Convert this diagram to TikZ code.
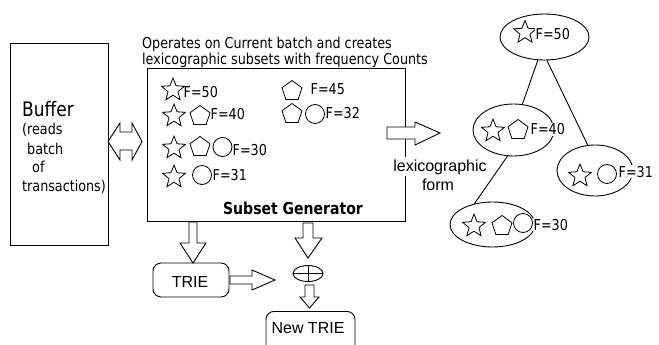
\documentclass[tikz,border=0pt]{standalone}
\usepackage{fontspec}
\usetikzlibrary{shapes.geometric}
\newfontfamily\tah[FakeStretch=0.85]{DejaVu Sans}
\newfontfamily\ari{Liberation Sans}
\begin{document}
\begin{tikzpicture}[x=1pt,y=-1pt,
  ln/.style={line width=0.9pt},
  sym/.style={draw, line width=0.8pt, inner sep=0pt},
  starsym/.style={sym, star, star points=5, star point ratio=2.3, minimum size=24pt},
  pentsym/.style={sym, regular polygon, regular polygon sides=5, minimum size=21pt},
  circsym/.style={sym, circle, minimum size=19pt},
  flab/.style={font=\tah\fontsize{15}{18}\selectfont, inner sep=0.5pt, anchor=base west},
  tlab/.style={flab, fill=white},
  htext/.style={font=\tah\fontsize{15}{18}\selectfont, inner sep=0pt, anchor=base west},
  atext/.style={font=\ari\fontsize{16}{19}\selectfont, inner sep=1pt, anchor=base},
  blockarrow/.style={ln, fill=white, line join=miter},
  tnode/.style={draw, ln, ellipse, inner sep=0pt}
]
\clip (0,0) rectangle (659,345);
\fill[white] (0,0) rectangle (659,345);

% Buffer
\node[draw, ln, anchor=north west, minimum width=98pt, minimum height=202pt, inner sep=0pt] (buf) at (10,43) {};
\node[htext, font=\tah\fontsize{20}{24}\selectfont] (bufT) at (22,117) {Buffer};
\node[htext] (bufL1) at (22,134) {(reads};
\node[htext] (bufL2) at (27,154) {batch};
\node[htext] (bufL3) at (32,172) {of};
\node[htext] (bufL4) at (22,191) {transactions)};

% double arrow
\draw[blockarrow] (108,141.5)--(120,123)--(120,132)--(132,132)--(132,123)--(142,141.5)
  --(132,160)--(132,150)--(120,150)--(120,160)--cycle;

% header
\node[htext] (h1) at (142,49) {Operates on Current batch and creates};
\node[htext] (h2) at (142,65) {lexicographic subsets with frequency Counts};

% Subset generator
\node[draw, ln, anchor=north west, minimum width=258pt, minimum height=153pt, inner sep=0pt] (sub) at (147,68) {};
\node[font=\tah\bfseries\fontsize{16.5}{20}\selectfont, inner sep=0pt, anchor=base] (subT) at (293,214) {Subset Generator};

% row 1
\node[starsym] (s1a) at (173,90) {};
\node[flab] (f50) at (183,98) {F=50};
\node[pentsym] (p1b) at (292,91) {};
\node[flab] (f45) at (310,95) {F=45};
% row 2
\node[starsym] (s2a) at (174,116) {};
\node[pentsym] (p2a) at (200,116) {};
\node[flab] (f40) at (210,120) {F=40};
\node[pentsym] (p2b) at (292,114) {};
\node[circsym] (c2b) at (315,114) {};
\node[flab] (f32) at (325,118) {F=32};
% row 3
\node[starsym] (s3a) at (174,148) {};
\node[pentsym] (p3a) at (200,147) {};
\node[circsym] (c3a) at (222.5,147) {};
\node[flab] (f30) at (232,155) {F=30};
% row 4
\node[starsym] (s4a) at (174,177) {};
\node[circsym] (c4a) at (202,175) {};
\node[flab] (f31) at (212,180) {F=31};

% lexicographic arrow
\draw[blockarrow] (387,127)--(415,127)--(415,122)--(440,133)--(415,145)--(415,139)--(387,139)--cycle;
\node[atext, fill=white, inner sep=2pt] (lex1) at (440,171) {lexicographic};
\node[atext, fill=white, inner sep=2pt] (lex2) at (438,190) {form};

% tree
\node[tnode, minimum width=89pt, minimum height=46pt] (r) at (544.5,37) {};
\node[tnode, minimum width=81pt, minimum height=52pt] (n2) at (513.5,130) {};
\node[tnode, minimum width=76pt, minimum height=51pt] (n3) at (595,170.5) {};
\node[tnode, minimum width=85pt, minimum height=45pt] (n4) at (492.5,224.5) {};
\draw[ln] (r.-106) -- (n2.71);
\draw[ln] (r.-84) -- (n3.106);
\draw[ln] (n2.-103) -- (n4.131);

\node[starsym] (rs) at (525,32.5) {};
\node[tlab] (rf) at (535,40) {F=50};
\node[starsym] (n2s) at (493,131) {};
\node[pentsym] (n2p) at (518,130) {};
\node[tlab] (n2f) at (530,135) {F=40};
\node[starsym] (n3s) at (580,176) {};
\node[circsym] (n3c) at (607,174) {};
\node[tlab] (n3f) at (618,177) {F=31};
\node[starsym] (n4s) at (474,226) {};
\node[pentsym] (n4p) at (502,226) {};
\node[circsym] (n4c) at (523,223) {};
\node[tlab] (n4f) at (533,230) {F=30};

% bottom part
\draw[blockarrow] (189,222)--(189,243)--(180,243)--(193,263)--(206,243)--(197,243)--(197,222)--cycle;
\draw[blockarrow] (303,223)--(303,238)--(295,238)--(308,258)--(322,238)--(313,238)--(313,223)--cycle;

\node[draw, ln, rounded corners=8pt, minimum width=76pt, minimum height=34pt, inner sep=0pt] (trie) at (191,280) {};
\node[atext] (trieT) at (190,287) {TRIE};

\node[draw, ln, ellipse, minimum width=30pt, minimum height=16pt, inner sep=0pt] (plus) at (308,273.5) {};
\draw[ln] (plus.north) -- (plus.south) (plus.west) -- (plus.east);

\draw[blockarrow] (230,276)--(252,276)--(252,270)--(275,280)--(252,290)--(252,284)--(230,284)--cycle;
\draw[blockarrow] (305,285)--(305,297)--(300,297)--(309.5,308)--(319,297)--(314,297)--(314,285)--cycle;

\node[draw, ln, rounded corners=8pt, anchor=north, minimum width=89pt, minimum height=50pt, inner sep=0pt] (newtrie) at (310.5,311) {};
\node[atext] (newtrieT) at (308,333) {New TRIE};
\end{tikzpicture}
\end{document}
